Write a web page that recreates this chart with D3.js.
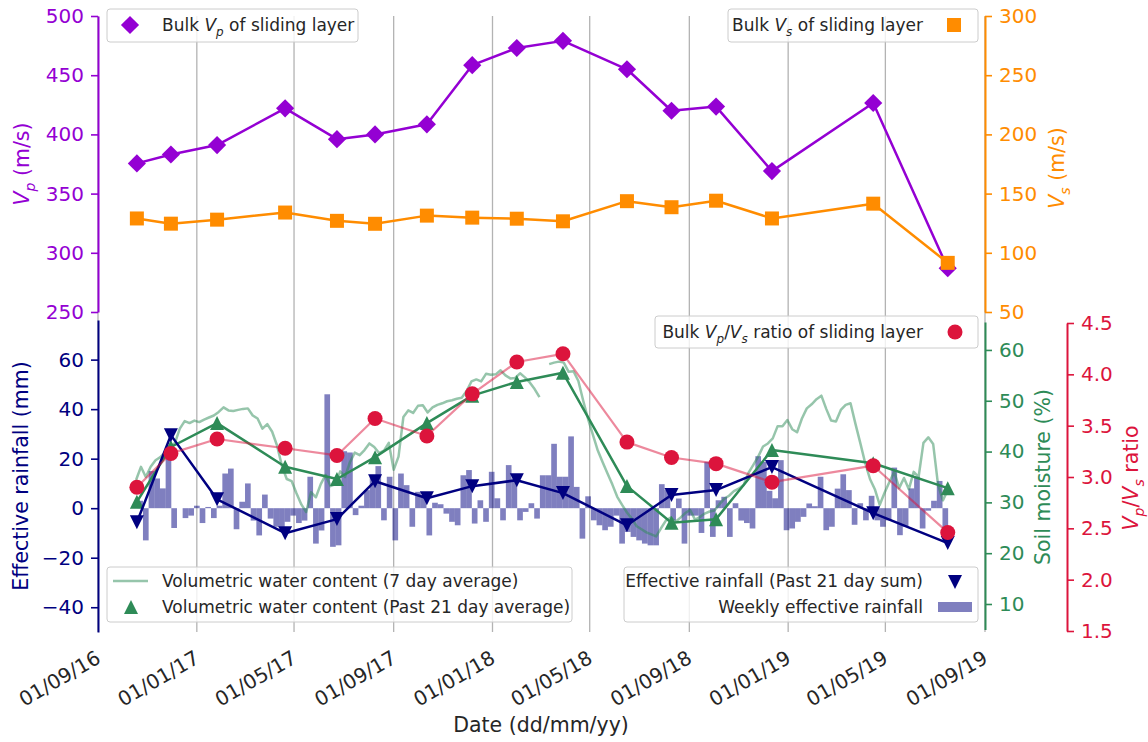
<!DOCTYPE html>
<html>
<head>
<meta charset="utf-8">
<script src="https://cdn.jsdelivr.net/npm/d3@7"></script>
<style>
  html, body { margin: 0; padding: 0; background: #fff; }
  svg { display: block; font-family: "DejaVu Sans", sans-serif; }
</style>
</head>
<body>
<svg id="chart" width="1148" height="742"></svg>
<script>
// ---- Seismic survey results (one entry per survey) ----
const surveyDates = ["2016-10-19", "2016-11-30", "2017-01-26", "2017-04-20", "2017-06-23", "2017-08-09",
  "2017-10-12", "2017-12-07", "2018-01-31", "2018-03-29", "2018-06-16", "2018-08-10",
  "2018-10-04", "2018-12-12", "2019-04-16", "2019-07-17"];
const bulkVp = [375.5, 383, 391, 422, 396, 400, 408.5, 458.5, 473, 479, 455, 420, 423.5, 369, 426.5, 287];
const bulkVs = [129, 124.6, 128, 134, 127, 124.5, 131.4, 129.7, 128.8, 126.6, 143.6, 138.5, 144, 129, 141.5, 91.5];
const vpVsRatio = [2.90, 3.23, 3.37, 3.28, 3.21, 3.57, 3.40, 3.81, 4.12, 4.20, 3.34, 3.19, 3.13, 2.95, 3.11, 2.46];
const vwcPast21Avg = [30.1, 40.9, 45.6, 37.0, 34.6, 38.9, 45.6, 51.0, 53.7, 55.5, 33.2, 26.0, 26.7, 40.3, 37.7, 32.8];
const rainPast21Sum = [-5.7, 29.5, 3.6, -10.1, -4.4, 10.9, 4.0, 8.9, 11.3, 6.1, -6.9, 5.3, 7.3, 16.6, -2.0, -14.1];

// ---- Weekly effective rainfall (mm), consecutive weeks ----
const weeklyRainStart = "2016-10-23";
const weeklyRain = [3, -13, 15, 12, 8, 24, -8, 0, -4, -3, 1, -6, 0.5, -4, 1, 14, 16, -8.5, 2.6, 10,
  -5, -11, 5.5, -4.2, -7.5, -7.5, -5.5, -3, -6, -5, 12.7, -14.3, -9, 46, -15.6, -15, 23, 22.5, -2.8, 1,
  7.3, 12.7, 17, -4.9, 12.7, -13, 14, 9.3, -7.5, 6.6, 5.3, -11, 2.2, 1.6, -2.2, -5.5, -6.9, 13.3, 15.4, -6.2,
  3.2, -5.5, 14.7, 4, -4.9, 17.4, 12, -4.9, -1.5, 2, -4.2, 13.3, 13.3, 26, 12.7, 12.7, 29, 8.6, -12.3, 4.8,
  -4.9, -6.9, -8.9, -7.5, -3, -14.3, -9.6, -11.6, -13, -14.3, -15, -15, 9.7, 7.3, -5, 3.9, -14.3, -3, -3, -10,
  18.7, -11.6, 3.2, 4.6, -11.6, 2, -5, -6, -8.2, 21, 18.7, 7, 4, 19.4, -8.9, -8.2, -5.5, -3.5, 1.9, 0.8,
  12.7, -8.9, -7.5, 7.9, 13.7, 7.3, -6.7, 2, -4.9, 5, -4.9, -7.5, -4.9, 16.4, -10.9, -7.5, 8, 12.7, -8.2, -1,
  3, 11, -8.9];

// ---- Volumetric water content, 7 day running average (%), sampled every 6 days ----
const vwc7Start = "2016-10-18";
const vwc7StepDays = 6;
const vwc7Avg = [34.4, 37.0, 35.0, 37.0, 38.3, 38.9, 39.9, 40.7, 41.7, 44.5, 46.0, 45.6, 46.1, 45.8, 46.3, 46.7,
  47.1, 47.8, 48.7, 48.1, 48.0, 48.2, 48.4, 48.5, 47.1, 46.5, 44.5, 45.4, 43.9, 41.2, 37.2, 34.6, 34.2, 31.8,
  29.6, 28.1, 32.0, 31.0, 33.6, 35.4, 33.2, 33.6, 36.1, 35.0, 37.9, 39.8, 39.3, 40.3, 41.6, 40.9, 39.7, 40.2,
  41.7, 36.4, 39.0, 46.8, 48.1, 47.6, 49.0, 49.1, 47.7, 48.7, 49.2, 49.5, 49.9, 50.1, 50.4, 50.6, 51.9, 53.8,
  54.2, 53.8, 55.3, 55.1, 55.2, 56.0, 55.0, 54.4, 54.5, 55.4, 54.6, 53.6, 52.3, 50.7, null, 57.2, 57.5, 57.7,
  57.5, 55.7, 55.8, 53.9, 50.0, 46.4, 43.3, 40.2, 37.9, 35.7, 33.5, 31.1, 29.5, 28.0, 26.8, 25.3, 24.7, 24.1,
  23.7, 23.3, 24.9, 26.4, 27.0, 26.2, 27.0, 27.9, 28.5, 26.6, 27.1, 27.8, 28.2, 28.4, 29.6, 30.7, 31.3, 32.2,
  32.7, 33.4, 35.8, 37.4, 39.0, 41.0, 41.6, 42.6, 45.0, 45.0, 46.2, 44.4, 43.8, 46.5, 48.5, 49.3, 50.3, 51.0,
  48.4, 46.1, 45.9, 48.2, 49.2, 49.5, 45.5, 41.7, 37.8, 34.6, 32.6, 29.5, 31.9, 34.0, 36.0, 32.8, 34.8, 32.6,
  36.0, 35.0, 41.7, 42.8, 41.5, 33.5, 30.4, 32.4];

// ---- Axis ticks ----
const vpTicks = [250, 300, 350, 400, 450, 500];
const vsTicks = [50, 100, 150, 200, 250, 300];
const rainTicks = [-40, -20, 0, 20, 40, 60];
const soilTicks = [10, 20, 30, 40, 50, 60];
const ratioTicks = [1.5, 2.0, 2.5, 3.0, 3.5, 4.0, 4.5];

// ---- Colours ----
const C = {
  vp: "#9400D3", vs: "#FF8C00", ratio: "#DC143C",
  soil: "#2E8B57", rain: "#000080", grid: "#b3b3b3", text: "#262626"
};
const FONT = "DejaVu Sans, sans-serif";

const parse = d3.utcParse("%Y-%m-%d");
const svg = d3.select("#chart");

// ---- Scales ----
const x = d3.scaleUtc().domain([parse("2016-09-01"), parse("2019-09-01")]).range([98, 985]);
const yVp = d3.scaleLinear().domain([250, 500]).range([312, 16]);
const yVs = d3.scaleLinear().domain([50, 300]).range([312, 16]);
const yRain = d3.scaleLinear().domain([-50, 76]).range([632, 320]);
const ySoil = d3.scaleLinear().domain([5, 65.5]).range([629.4, 322]);
const yRatio = d3.scaleLinear().domain([1.5, 4.5]).range([631, 323]);

// ---- Records ----
const surveys = surveyDates.map((d, i) => ({
  date: parse(d), vp: bulkVp[i], vs: bulkVs[i], ratio: vpVsRatio[i],
  vwc: vwcPast21Avg[i], rain: rainPast21Sum[i]
}));
const weeks = weeklyRain.map((v, i) => ({ date: d3.utcDay.offset(parse(weeklyRainStart), 7 * i), v }));
const vwc7 = vwc7Avg.map((v, i) => ({ date: d3.utcDay.offset(parse(vwc7Start), i * vwc7StepDays), v }));

// ---- Vertical grid at every 4 months ----
const monthTicks = x.ticks(d3.utcMonth.every(4));
svg.append("g").selectAll("line").data(monthTicks).join("line")
  .attr("x1", d => x(d)).attr("x2", d => x(d))
  .attr("y1", 16).attr("y2", 632)
  .attr("stroke", C.grid).attr("stroke-width", 1.3);

// ---- Weekly effective rainfall bars ----
svg.append("g").selectAll("rect").data(weeks).join("rect")
  .attr("x", d => x(d3.utcHour.offset(d.date, -84)))
  .attr("width", d => x(d3.utcHour.offset(d.date, 84)) - x(d3.utcHour.offset(d.date, -84)))
  .attr("y", d => Math.min(yRain(d.v), yRain(0)))
  .attr("height", d => Math.abs(yRain(d.v) - yRain(0)))
  .attr("fill", C.rain).attr("fill-opacity", 0.5);

// ---- 7-day average VWC trace ----
svg.append("path").datum(vwc7)
  .attr("d", d3.line().defined(d => d.v != null).x(d => x(d.date)).y(d => ySoil(d.v)))
  .attr("fill", "none").attr("stroke", C.soil).attr("stroke-opacity", 0.5)
  .attr("stroke-width", 2.5).attr("stroke-linejoin", "round");

// ---- Marker helpers ----
function triPath(s, up) {
  const k = up ? 1 : -1;
  return `M0,${-k * s}L${s},${k * s}L${-s},${k * s}Z`;
}
const diamondPath = d3.symbol(d3.symbolSquare, 165)();
const squarePath = d3.symbol(d3.symbolSquare, 196)();

function series(acc, scale, color, opts) {
  const g = svg.append("g");
  g.append("path").datum(surveys)
    .attr("d", d3.line().x(d => x(d.date)).y(d => scale(acc(d))))
    .attr("fill", "none").attr("stroke", color)
    .attr("stroke-opacity", opts.lineOpacity || 1)
    .attr("stroke-width", opts.lineWidth || 2.5).attr("stroke-linejoin", "round");
  const m = g.selectAll(".m").data(surveys).join(opts.circle ? "circle" : "path")
    .attr("fill", color);
  if (opts.circle) {
    m.attr("cx", d => x(d.date)).attr("cy", d => scale(acc(d))).attr("r", opts.r);
  } else {
    m.attr("d", opts.path)
      .attr("transform", d => `translate(${x(d.date)},${scale(acc(d))})${opts.rotate ? " rotate(45)" : ""}`);
  }
}

// lower panel series
series(d => d.vwc, ySoil, C.soil, { path: triPath(7, true) });
series(d => d.rain, yRain, C.rain, { path: triPath(7, false) });
series(d => d.ratio, yRatio, C.ratio, { circle: true, r: 7.5, lineOpacity: 0.5, lineWidth: 2.2 });
// upper panel series
series(d => d.vp, yVp, C.vp, { path: diamondPath, rotate: true });
series(d => d.vs, yVs, C.vs, { path: squarePath });

// ---- Axes ----
function styleAxis(g, color) {
  g.attr("font-family", FONT).attr("font-size", 20);
  g.select(".domain").attr("stroke", color).attr("stroke-width", 2);
  g.selectAll(".tick line").attr("stroke", color).attr("stroke-width", 1.6);
  g.selectAll(".tick text").attr("fill", color);
}
svg.append("g").attr("transform", "translate(98,0)")
  .call(d3.axisLeft(yVp).tickValues(vpTicks).tickSizeInner(7).tickSizeOuter(0).tickPadding(7))
  .call(g => styleAxis(g, C.vp));
svg.append("g").attr("transform", "translate(98,0)")
  .call(d3.axisLeft(yRain).tickValues(rainTicks).tickSizeInner(7).tickSizeOuter(0).tickPadding(7))
  .call(g => styleAxis(g, C.rain));
svg.append("g").attr("transform", "translate(985,0)")
  .call(d3.axisRight(yVs).tickValues(vsTicks).tickSizeInner(7).tickSizeOuter(0).tickPadding(7))
  .call(g => styleAxis(g, C.vs));
svg.append("g").attr("transform", "translate(985,0)")
  .call(d3.axisRight(ySoil).tickValues(soilTicks).tickSizeInner(7).tickSizeOuter(0).tickPadding(7))
  .call(g => styleAxis(g, C.soil));
svg.append("g").attr("transform", "translate(1067,0)")
  .call(d3.axisRight(yRatio).tickValues(ratioTicks).tickFormat(d3.format(".1f"))
    .tickSizeInner(7).tickSizeOuter(0).tickPadding(7))
  .call(g => styleAxis(g, C.ratio));

// date tick labels
svg.append("g").selectAll("text").data(monthTicks).join("text")
  .attr("transform", d => `translate(${x(d) + 4},662) rotate(-30)`)
  .attr("text-anchor", "end")
  .attr("font-family", FONT).attr("font-size", 20).attr("fill", C.text)
  .text(d3.utcFormat("%d/%m/%y"));

// ---- Axis titles (rich text with italic subscripted symbols) ----
function rich(sel, parts, size) {
  const sub = Math.round(size * 0.7), shift = Math.round(size * 0.28);
  let low = false;
  parts.forEach(p => {
    const t = sel.append("tspan").text(p.t);
    if (p.i) t.attr("font-style", "italic");
    if (p.sub) { t.attr("font-size", sub).attr("dy", shift); low = true; }
    else if (low) { t.attr("dy", -shift); low = false; }
  });
}
function vTitle(cx, cy, color, parts) {
  const t = svg.append("text").attr("transform", `translate(${cx},${cy}) rotate(-90)`)
    .attr("text-anchor", "middle").attr("font-family", FONT).attr("font-size", 20.5).attr("fill", color);
  rich(t, parts, 20.5);
}
vTitle(29, 164, C.vp, [{ t: "V", i: true }, { t: "p", i: true, sub: true }, { t: " (m/s)" }]);
vTitle(28, 476, C.rain, [{ t: "Effective rainfall (mm)" }]);
vTitle(1064, 168, C.vs, [{ t: "V", i: true }, { t: "s", i: true, sub: true }, { t: " (m/s)" }]);
vTitle(1050, 477, C.soil, [{ t: "Soil moisture (%)" }]);
vTitle(1138, 478, C.ratio, [{ t: "V", i: true }, { t: "p", i: true, sub: true }, { t: "/" },
  { t: "V", i: true }, { t: "s", i: true, sub: true }, { t: " ratio" }]);

svg.append("text").attr("x", 541).attr("y", 732).attr("text-anchor", "middle")
  .attr("font-family", FONT).attr("font-size", 20.5).attr("fill", C.text).text("Date (dd/mm/yy)");

// ---- Legends ----
function box(x0, y0, w, h) {
  svg.append("rect").attr("x", x0).attr("y", y0).attr("width", w).attr("height", h)
    .attr("rx", 3).attr("fill", "#fff").attr("fill-opacity", 0.8)
    .attr("stroke", "#cccccc").attr("stroke-width", 1);
}
function label(x0, y0, anchor, parts) {
  const t = svg.append("text").attr("x", x0).attr("y", y0).attr("text-anchor", anchor)
    .attr("font-family", FONT).attr("font-size", 17).attr("fill", C.text);
  rich(t, parts, 17);
}

box(107, 9, 251, 33);
svg.append("path").attr("d", diamondPath).attr("fill", C.vp).attr("transform", "translate(130,25) rotate(45)");
label(162, 31, "start", [{ t: "Bulk " }, { t: "V", i: true }, { t: "p", i: true, sub: true }, { t: " of sliding layer" }]);

box(728, 9, 250, 33);
svg.append("path").attr("d", squarePath).attr("fill", C.vs).attr("transform", "translate(954,25)");
label(923, 31, "end", [{ t: "Bulk " }, { t: "V", i: true }, { t: "s", i: true, sub: true }, { t: " of sliding layer" }]);

box(655, 316, 323, 32);
svg.append("circle").attr("cx", 955).attr("cy", 332).attr("r", 7.5).attr("fill", C.ratio);
label(923, 338, "end", [{ t: "Bulk " }, { t: "V", i: true }, { t: "p", i: true, sub: true }, { t: "/" },
  { t: "V", i: true }, { t: "s", i: true, sub: true }, { t: " ratio of sliding layer" }]);

box(107, 567, 465, 55);
svg.append("line").attr("x1", 113).attr("x2", 148).attr("y1", 581).attr("y2", 581)
  .attr("stroke", C.soil).attr("stroke-opacity", 0.5).attr("stroke-width", 2.5);
svg.append("path").attr("d", triPath(7, true)).attr("fill", C.soil).attr("transform", "translate(131,607)");
label(162, 587, "start", [{ t: "Volumetric water content (7 day average)" }]);
label(162, 613, "start", [{ t: "Volumetric water content (Past 21 day average)" }]);

box(624, 567, 354, 55);
svg.append("path").attr("d", triPath(7, false)).attr("fill", C.rain).attr("transform", "translate(955,582)");
svg.append("rect").attr("x", 938).attr("y", 602).attr("width", 34).attr("height", 10)
  .attr("fill", C.rain).attr("fill-opacity", 0.5);
label(923, 587, "end", [{ t: "Effective rainfall (Past 21 day sum)" }]);
label(923, 613, "end", [{ t: "Weekly effective rainfall" }]);
</script>
</body>
</html>
